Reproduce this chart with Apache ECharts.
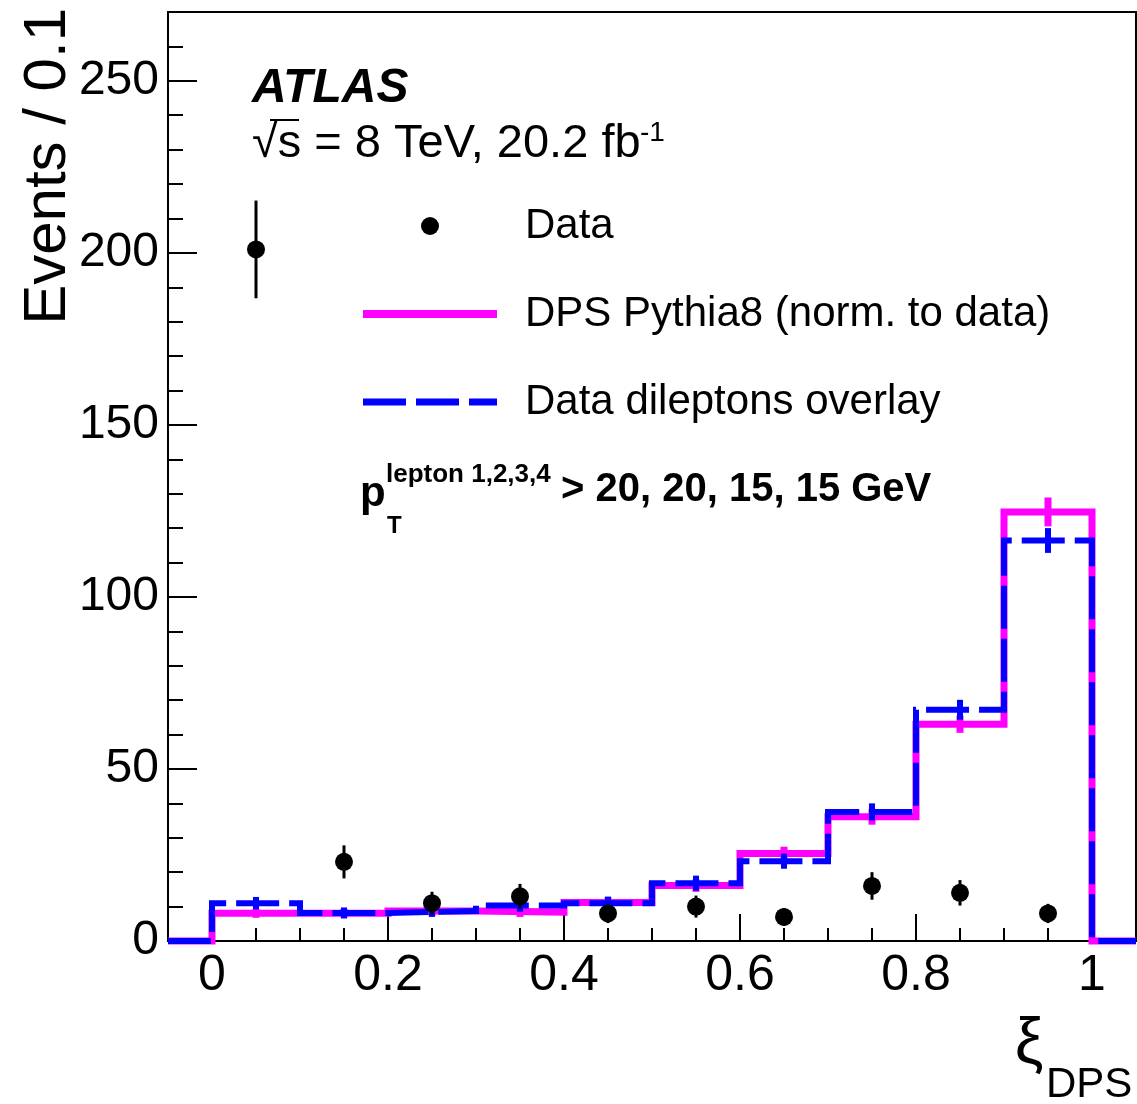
<!DOCTYPE html>
<html>
<head>
<meta charset="utf-8">
<script src="https://cdn.jsdelivr.net/npm/echarts@6/dist/echarts.min.js"></script>
<style>
html,body{margin:0;padding:0;background:#fff;}
#chart{width:1137px;height:1104px;}
</style>
</head>
<body>
<div id="chart"></div>
<script>
// ---- data ----
const binEdges = [-0.05, 0, 0.1, 0.2, 0.3, 0.4, 0.5, 0.6, 0.7, 0.8, 0.9, 1.0, 1.05];
const binCenters = [0.05, 0.15, 0.25, 0.35, 0.45, 0.55, 0.65, 0.75, 0.85, 0.95];
const dataValues = [201, 23, 11, 13, 8, 10, 7, 16, 14, 8];
const dataErrors = [14.2, 4.8, 3.3, 3.6, 2.8, 3.2, 2.6, 4.0, 3.7, 2.8];
const dpsValues = [8.05, 8.05, 8.7, 8.4, 11.2, 16.1, 25.4, 36.1, 63.0, 124.7];
const dpsErrors = [1.3, 1.3, 1.4, 1.4, 1.5, 1.8, 2.0, 2.3, 2.5, 4.2];
const overlayValues = [11.0, 8.15, 8.7, 10.3, 11.0, 16.8, 23.2, 37.5, 67.2, 116.4];
const overlayErrors = [1.8, 1.6, 1.7, 1.8, 1.9, 2.2, 2.2, 2.5, 2.9, 3.6];
const xMajorTicks = [0, 0.2, 0.4, 0.6, 0.8, 1.0];
const xTickLabels = ['0', '0.2', '0.4', '0.6', '0.8', '1'];
const yMajorTicks = [0, 50, 100, 150, 200, 250];
const yTickLabels = ['0', '50', '100', '150', '200', '250'];

const FONT = '"Liberation Sans", Arial, Helvetica, sans-serif';

// step outline built from bin edges & values (underflow/overflow bins = 0)
function stepPoints(vals) {
  const full = [0].concat(vals, [0]);
  const pts = [];
  for (let i = 0; i < full.length; i++) {
    pts.push([binEdges[i], full[i]]);
    pts.push([binEdges[i + 1], full[i]]);
  }
  return pts;
}
function errData(vals, errs) {
  return binCenters.map((c, i) => [c, vals[i] - errs[i], vals[i] + errs[i]]);
}
function errSeries(name, vals, errs, color, width, z) {
  return {
    type: 'custom', name: name, z: z, silent: true,
    clip: false,
    data: errData(vals, errs),
    renderItem: function (params, api) {
      const p1 = api.coord([api.value(0), api.value(1)]);
      const p2 = api.coord([api.value(0), api.value(2)]);
      return { type: 'line', shape: { x1: p1[0], y1: p1[1], x2: p2[0], y2: p2[1] },
               style: { stroke: color, lineWidth: width } };
    }
  };
}
// minor ticks
const xMinor = [];
for (let k = 1; k < 20; k++) { if (k % 4 !== 0) xMinor.push(+(k * 0.05).toFixed(2)); }
const yMinor = [];
for (let k = 1; k <= 26; k++) { if (k % 5 !== 0) yMinor.push(k * 10); }

const chart = echarts.init(document.getElementById('chart'), null, { renderer: 'canvas' });
const option = {
  animation: false,
  backgroundColor: '#fff',
  grid: { left: 168, right: 1, top: 12, bottom: 163, show: true, borderColor: '#000', borderWidth: 2, backgroundColor: 'transparent' },
  xAxis: [
    { type: 'value', min: -0.05, max: 1.05, position: 'bottom',
      axisLine: { show: true, onZero: false, lineStyle: { color: '#000', width: 2 } },
      axisTick: { show: true, inside: true, length: 27, customValues: xMajorTicks, lineStyle: { color: '#000', width: 2 } },
      axisLabel: { show: true, customValues: xMajorTicks, margin: 10, fontSize: 50, color: '#000', fontFamily: FONT,
        formatter: function (v) { const i = xMajorTicks.findIndex(t => Math.abs(t - v) < 1e-6); return i >= 0 ? xTickLabels[i] : ''; } },
      splitLine: { show: false } },
    { type: 'value', min: -0.05, max: 1.05, position: 'bottom',
      axisLine: { show: false, onZero: false },
      axisTick: { show: true, inside: true, length: 13, customValues: xMinor, lineStyle: { color: '#000', width: 2 } },
      axisLabel: { show: false }, splitLine: { show: false } }
  ],
  yAxis: [
    { type: 'value', min: 0, max: 270, position: 'left',
      axisLine: { show: true, onZero: false, lineStyle: { color: '#000', width: 2 } },
      axisTick: { show: true, inside: true, length: 29, customValues: yMajorTicks, lineStyle: { color: '#000', width: 2 } },
      axisLabel: { show: true, customValues: yMajorTicks, margin: 9, fontSize: 48, color: '#000', fontFamily: FONT,
        formatter: function (v) { const i = yMajorTicks.indexOf(v); return i >= 0 ? yTickLabels[i] : ''; } },
      splitLine: { show: false } },
    { type: 'value', min: 0, max: 270, position: 'left',
      axisLine: { show: false, onZero: false },
      axisTick: { show: true, inside: true, length: 15, customValues: yMinor, lineStyle: { color: '#000', width: 2 } },
      axisLabel: { show: false }, splitLine: { show: false } }
  ],
  legend: {
    orient: 'vertical', left: 354, top: 200,
    itemWidth: 134, itemHeight: 18, itemGap: 46,
    selectedMode: false,
    textStyle: { fontSize: 42, color: '#000', fontFamily: FONT, padding: [3, 0, 0, 23] },
    data: [
      { name: 'Data', icon: 'circle', itemStyle: { color: '#000', opacity: 1 } },
      { name: 'DPS Pythia8 (norm. to data)', lineStyle: { width: 8 }, itemStyle: { opacity: 0, borderWidth: 0 } },
      { name: 'Data dileptons overlay', lineStyle: { width: 7 }, itemStyle: { opacity: 0, borderWidth: 0 } }
    ]
  },
  series: [
    { type: 'line', name: 'DPS Pythia8 (norm. to data)', data: stepPoints(dpsValues), symbol: 'none', clip: false, z: 2,
      color: '#ff00ff', lineStyle: { color: '#ff00ff', width: 7, join: 'miter', cap: 'butt' } },
    errSeries('dpsErr', dpsValues, dpsErrors, '#ff00ff', 7, 2),
    { type: 'line', name: 'Data dileptons overlay', data: stepPoints(overlayValues), symbol: 'none', clip: false, z: 3,
      color: '#0000ff', lineStyle: { color: '#0000ff', width: 6, type: [43, 10], join: 'miter', cap: 'butt' } },
    errSeries('ovlErr', overlayValues, overlayErrors, '#0000ff', 6, 3),
    errSeries('dataErr', dataValues, dataErrors, '#000', 3, 4),
    { type: 'scatter', name: 'Data', data: binCenters.map((c, i) => [c, dataValues[i]]), symbol: 'circle', symbolSize: 18,
      itemStyle: { color: '#000', opacity: 1 }, z: 5, clip: false }
  ],
  graphic: [
    { type: 'text', x: 48, y: 8, rotation: Math.PI / 2,
      style: { text: 'Events / 0.1', fontSize: 60, fontFamily: FONT, fill: '#000', align: 'right', verticalAlign: 'middle' } },
    { type: 'text', x: 1029, y: 1045,
      style: { text: 'ξ', fontSize: 64, fontFamily: FONT, fill: '#000', align: 'center', verticalAlign: 'middle' } },
    { type: 'text', x: 1046, y: 1085,
      style: { text: 'DPS', fontSize: 42, fontFamily: FONT, fill: '#000', align: 'left', verticalAlign: 'middle' } },
    { type: 'text', x: 252, y: 89,
      style: { text: 'ATLAS', fontSize: 48, fontWeight: 'bold', fontStyle: 'italic', fontFamily: FONT, fill: '#000', align: 'left', verticalAlign: 'middle' } },
    { type: 'text', x: 252, y: 144,
      style: { text: '√s = 8 TeV, 20.2 fb', fontSize: 47, fontFamily: FONT, fill: '#000', align: 'left', verticalAlign: 'middle' } },
    { type: 'line', shape: { x1: 270, y1: 120, x2: 299, y2: 120 }, style: { stroke: '#000', lineWidth: 2 } },
    { type: 'text', x: 640, y: 133,
      style: { text: '-1', fontSize: 28, fontFamily: FONT, fill: '#000', align: 'left', verticalAlign: 'middle' } },
    { type: 'text', x: 360, y: 494,
      style: { text: 'p', fontSize: 42, fontWeight: 'bold', fontFamily: FONT, fill: '#000', align: 'left', verticalAlign: 'middle' } },
    { type: 'text', x: 386, y: 475,
      style: { text: 'lepton 1,2,3,4', fontSize: 26, fontWeight: 'bold', fontFamily: FONT, fill: '#000', align: 'left', verticalAlign: 'middle' } },
    { type: 'text', x: 387, y: 526,
      style: { text: 'T', fontSize: 24, fontWeight: 'bold', fontFamily: FONT, fill: '#000', align: 'left', verticalAlign: 'middle' } },
    { type: 'text', x: 561, y: 490,
      style: { text: '> 20, 20, 15, 15 GeV', fontSize: 40, fontWeight: 'bold', fontFamily: FONT, fill: '#000', align: 'left', verticalAlign: 'middle' } }
  ]
};
chart.setOption(option);
</script>
</body>
</html>
